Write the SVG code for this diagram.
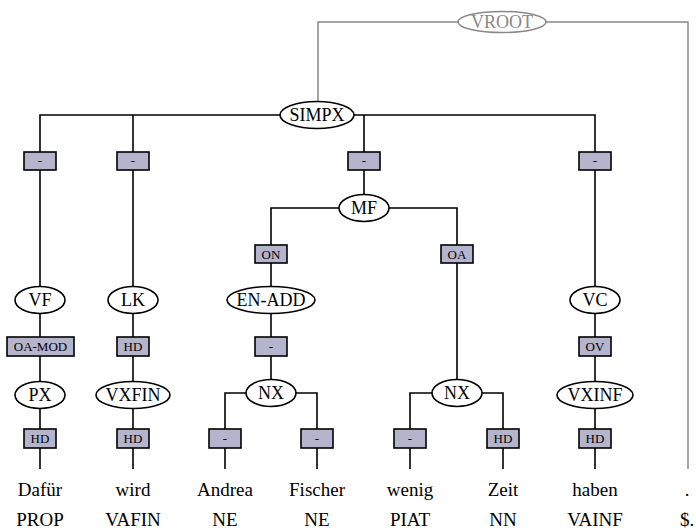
<svg xmlns="http://www.w3.org/2000/svg" width="696" height="530" viewBox="0 0 696 530">
<rect width="696" height="530" fill="#fff"/>
<g id="connectors" fill="none">
<path stroke="#888" stroke-width="1.5" d="M318 101 V22 H458 M546 22 H688 V469"/>
<g stroke="#000" stroke-width="1.6">
<path d="M280 115 H40 V287 M354 115 H595 V287 M133 115 V287 M364 115 V195"/>
<path d="M40 313 V382 M133 313 V382 M595 313 V382"/>
<path d="M40 408 V469 M133 408 V469 M595 408 V469"/>
<path d="M339 208 H271 V287 M389 208 H457 V380"/>
<path d="M271 313 V380"/>
<path d="M247 393 H225 V469 M295 393 H317 V469"/>
<path d="M433 393 H410 V469 M481 393 H503 V469"/>
</g>
</g>
<g id="VROOT" fill="#fff" stroke="#888" stroke-width="1.5"><ellipse cx="502" cy="22" rx="44" ry="10.5"/><text x="502" y="28" font-family="Liberation Serif" font-size="18" text-anchor="middle" fill="#888" stroke="none">VROOT</text></g>
<g id="nodes" fill="#fff" stroke="#000" stroke-width="1.6">
<g id="SIMPX"><ellipse cx="317" cy="115" rx="37" ry="13.5"/><text x="317" y="121" font-family="Liberation Serif" font-size="18" text-anchor="middle" fill="#000" stroke="none">SIMPX</text></g>
<g id="VF"><ellipse cx="40" cy="300" rx="25" ry="13.5"/><text x="40" y="306" font-family="Liberation Serif" font-size="18" text-anchor="middle" fill="#000" stroke="none">VF</text></g>
<g id="LK"><ellipse cx="133" cy="300" rx="25" ry="13.5"/><text x="133" y="306" font-family="Liberation Serif" font-size="18" text-anchor="middle" fill="#000" stroke="none">LK</text></g>
<g id="MF"><ellipse cx="364" cy="208" rx="25" ry="13.5"/><text x="364" y="214" font-family="Liberation Serif" font-size="18" text-anchor="middle" fill="#000" stroke="none">MF</text></g>
<g id="ENADD"><ellipse cx="271" cy="300" rx="44" ry="13.5"/><text x="271" y="306" font-family="Liberation Serif" font-size="18" text-anchor="middle" fill="#000" stroke="none">EN-ADD</text></g>
<g id="VC"><ellipse cx="595" cy="300" rx="25" ry="13.5"/><text x="595" y="306" font-family="Liberation Serif" font-size="18" text-anchor="middle" fill="#000" stroke="none">VC</text></g>
<g id="PX"><ellipse cx="40" cy="395" rx="25" ry="13.5"/><text x="40" y="401" font-family="Liberation Serif" font-size="18" text-anchor="middle" fill="#000" stroke="none">PX</text></g>
<g id="VXFIN"><ellipse cx="133" cy="395" rx="37" ry="13.5"/><text x="133" y="401" font-family="Liberation Serif" font-size="18" text-anchor="middle" fill="#000" stroke="none">VXFIN</text></g>
<g id="NX1"><ellipse cx="271" cy="393" rx="25" ry="13.5"/><text x="271" y="399" font-family="Liberation Serif" font-size="18" text-anchor="middle" fill="#000" stroke="none">NX</text></g>
<g id="NX2"><ellipse cx="457" cy="393" rx="25" ry="13.5"/><text x="457" y="399" font-family="Liberation Serif" font-size="18" text-anchor="middle" fill="#000" stroke="none">NX</text></g>
<g id="VXINF"><ellipse cx="595" cy="395" rx="38" ry="13.5"/><text x="595" y="401" font-family="Liberation Serif" font-size="18" text-anchor="middle" fill="#000" stroke="none">VXINF</text></g>
</g>
<g id="labels" fill="#b4b4cc" stroke="#000" stroke-width="1.6">
<g><rect x="24" y="152" width="32" height="18"/><text x="40" y="165" font-family="Liberation Serif" font-size="13" text-anchor="middle" fill="#000" stroke="none">-</text></g>
<g><rect x="117" y="152" width="32" height="18"/><text x="133" y="165" font-family="Liberation Serif" font-size="13" text-anchor="middle" fill="#000" stroke="none">-</text></g>
<g><rect x="348" y="152" width="32" height="18"/><text x="364" y="165" font-family="Liberation Serif" font-size="13" text-anchor="middle" fill="#000" stroke="none">-</text></g>
<g><rect x="579" y="152" width="32" height="18"/><text x="595" y="165" font-family="Liberation Serif" font-size="13" text-anchor="middle" fill="#000" stroke="none">-</text></g>
<g><rect x="255" y="245" width="32" height="18"/><text x="271" y="258.5" font-family="Liberation Serif" font-size="13" text-anchor="middle" fill="#000" stroke="none">ON</text></g>
<g><rect x="441" y="245" width="32" height="18"/><text x="457" y="258.5" font-family="Liberation Serif" font-size="13" text-anchor="middle" fill="#000" stroke="none">OA</text></g>
<g><rect x="7" y="337" width="67" height="19"/><text x="40.5" y="351" font-family="Liberation Serif" font-size="13" text-anchor="middle" fill="#000" stroke="none">OA-MOD</text></g>
<g><rect x="117" y="337" width="32" height="19"/><text x="133" y="351" font-family="Liberation Serif" font-size="13" text-anchor="middle" fill="#000" stroke="none">HD</text></g>
<g><rect x="255" y="337" width="32" height="19"/><text x="271" y="351" font-family="Liberation Serif" font-size="13" text-anchor="middle" fill="#000" stroke="none">-</text></g>
<g><rect x="579" y="337" width="32" height="19"/><text x="595" y="351" font-family="Liberation Serif" font-size="13" text-anchor="middle" fill="#000" stroke="none">OV</text></g>
<g><rect x="24" y="429" width="32" height="19"/><text x="40" y="443" font-family="Liberation Serif" font-size="13" text-anchor="middle" fill="#000" stroke="none">HD</text></g>
<g><rect x="117" y="429" width="32" height="19"/><text x="133" y="443" font-family="Liberation Serif" font-size="13" text-anchor="middle" fill="#000" stroke="none">HD</text></g>
<g><rect x="209" y="429" width="32" height="19"/><text x="225" y="443" font-family="Liberation Serif" font-size="13" text-anchor="middle" fill="#000" stroke="none">-</text></g>
<g><rect x="301" y="429" width="32" height="19"/><text x="317" y="443" font-family="Liberation Serif" font-size="13" text-anchor="middle" fill="#000" stroke="none">-</text></g>
<g><rect x="394" y="429" width="32" height="19"/><text x="410" y="443" font-family="Liberation Serif" font-size="13" text-anchor="middle" fill="#000" stroke="none">-</text></g>
<g><rect x="487" y="429" width="32" height="19"/><text x="503" y="443" font-family="Liberation Serif" font-size="13" text-anchor="middle" fill="#000" stroke="none">HD</text></g>
<g><rect x="579" y="429" width="32" height="19"/><text x="595" y="443" font-family="Liberation Serif" font-size="13" text-anchor="middle" fill="#000" stroke="none">HD</text></g>
</g>
<g id="words" fill="#000">
<text x="40" y="496" font-family="Liberation Serif" font-size="19" text-anchor="middle">Dafür</text>
<text x="133" y="496" font-family="Liberation Serif" font-size="19" text-anchor="middle">wird</text>
<text x="225" y="496" font-family="Liberation Serif" font-size="19" text-anchor="middle">Andrea</text>
<text x="317" y="496" font-family="Liberation Serif" font-size="19" text-anchor="middle">Fischer</text>
<text x="410" y="496" font-family="Liberation Serif" font-size="19" text-anchor="middle">wenig</text>
<text x="503" y="496" font-family="Liberation Serif" font-size="19" text-anchor="middle">Zeit</text>
<text x="595" y="496" font-family="Liberation Serif" font-size="19" text-anchor="middle">haben</text>
<text x="687" y="496" font-family="Liberation Serif" font-size="19" text-anchor="middle">.</text>
<text x="40" y="526" font-family="Liberation Serif" font-size="19" text-anchor="middle">PROP</text>
<text x="133" y="526" font-family="Liberation Serif" font-size="19" text-anchor="middle">VAFIN</text>
<text x="225" y="526" font-family="Liberation Serif" font-size="19" text-anchor="middle">NE</text>
<text x="317" y="526" font-family="Liberation Serif" font-size="19" text-anchor="middle">NE</text>
<text x="410" y="526" font-family="Liberation Serif" font-size="19" text-anchor="middle">PIAT</text>
<text x="503" y="526" font-family="Liberation Serif" font-size="19" text-anchor="middle">NN</text>
<text x="595" y="526" font-family="Liberation Serif" font-size="19" text-anchor="middle">VAINF</text>
<text x="687" y="526" font-family="Liberation Serif" font-size="19" text-anchor="middle">$.</text>
</g>
</svg>
